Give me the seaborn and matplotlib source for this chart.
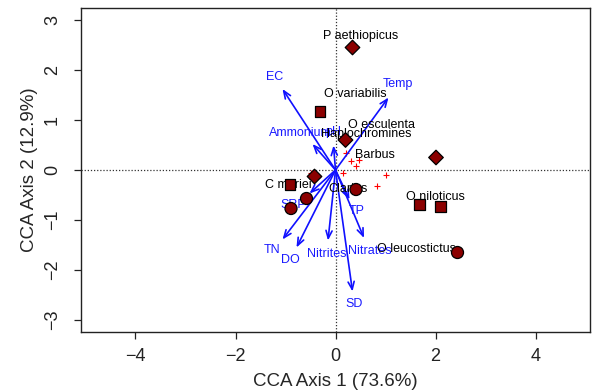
import matplotlib
matplotlib.use("Agg")
import matplotlib.pyplot as plt
import seaborn as sns
import pandas as pd

# ---- site scores (filled markers, three groups) ----
site_x = [0.34, 0.20, 2.01, -0.42, -0.31, -0.91, 1.68, 2.10, -0.58, -0.89, 0.41, 2.44]
site_y = [2.45, 0.60, 0.25, -0.13, 1.17, -0.29, -0.69, -0.73, -0.57, -0.77, -0.39, -1.65]
site_group = ["A", "A", "A", "A", "B", "B", "B", "B", "C", "C", "C", "C"]

# ---- species scores (red plus) ----
sp_x = [0.20, 0.31, 0.47, 0.40, 0.14, -0.49, 1.00, 0.83]
sp_y = [0.35, 0.18, 0.21, 0.09, -0.05, -0.05, -0.09, -0.31]

# ---- species labels ----
sp_names = ["P aethiopicus", "O variabilis", "O esculenta", "Haplochromines", "Barbus",
            "C mariei", "Clarias", "O niloticus", "O leucostictus"]
sp_lab_x = [0.50, 0.39, 0.92, 0.62, 0.79, -0.94, 0.26, 1.99, 1.62]
sp_lab_y = [2.69, 1.52, 0.89, 0.72, 0.29, -0.29, -0.38, -0.53, -1.58]

# ---- environmental vectors ----
env_names = ["EC", "Temp", "Ammonium", "pH", "SRP", "TN", "DO", "Nitrites", "Nitrates", "SD", "TP"]
env_x = [-1.06, 1.06, -0.46, -0.04, -0.52, -1.06, -0.78, -0.15, 0.57, 0.34, 0.28]
env_y = [1.62, 1.45, 0.52, 0.49, -0.47, -1.39, -1.55, -1.41, -1.36, -2.43, -0.59]
env_lab_x = [-1.22, 1.24, -0.71, -0.05, -0.84, -1.26, -0.91, -0.18, 0.68, 0.38, 0.42]
env_lab_y = [1.85, 1.73, 0.75, 0.75, -0.70, -1.60, -1.80, -1.68, -1.61, -2.68, -0.82]

x_label = "CCA Axis 1 (73.6%)"
y_label = "CCA Axis 2 (12.9%)"
x_ticks = [-4, -2, 0, 2, 4]
y_ticks = [-3, -2, -1, 0, 1, 2, 3]

sns.set_style("ticks")
plt.rcParams["font.family"] = ["Liberation Sans", "DejaVu Sans"]

fig = plt.figure(figsize=(5.92, 3.92), dpi=100)
ax = fig.add_axes([81 / 592, 60 / 392, (590 - 81) / 592, (332 - 8) / 392])

ax.axhline(0, color="#333333", ls=(0, (1, 1.5)), lw=0.9, zorder=1)
ax.axvline(0, color="#333333", ls=(0, (1, 1.5)), lw=0.9, zorder=1)

# species plus
sp_df = pd.DataFrame({"x": sp_x, "y": sp_y})
sns.scatterplot(data=sp_df, x="x", y="y", marker="+", color="red", s=18, linewidth=0.8,
                ax=ax, zorder=2, legend=False)

# env arrows
for n, x, y, lx, ly in zip(env_names, env_x, env_y, env_lab_x, env_lab_y):
    ax.annotate("", xy=(x, y), xytext=(0, 0),
                arrowprops=dict(arrowstyle="->,head_length=0.55,head_width=0.22",
                                color="#1010ff", lw=1.2, shrinkA=0, shrinkB=0),
                zorder=3)
    ax.text(lx, ly, n, color="#1a1aff", fontsize=9, ha="center", va="center", zorder=3)

# species labels
for n, x, y in zip(sp_names, sp_lab_x, sp_lab_y):
    ax.text(x, y, n, color="black", fontsize=9, ha="center", va="center", zorder=4)

# sites
site_df = pd.DataFrame({"x": site_x, "y": site_y, "group": site_group})
sns.scatterplot(data=site_df, x="x", y="y", style="group",
                markers={"A": "D", "B": "s", "C": "o"},
                size="group", sizes={"A": 55, "B": 60, "C": 75},
                color="#8b0000", edgecolor="black", linewidth=0.9,
                ax=ax, zorder=5, legend=False)

ax.set_xlim(-5.09, 5.09)
ax.set_ylim(-3.24, 3.24)
ax.set_xticks(x_ticks)
ax.set_yticks(y_ticks)
ax.set_xticklabels(["\u2212" + str(abs(t)) if t < 0 else str(t) for t in x_ticks])
ax.set_yticklabels(["\u2212" + str(abs(t)) if t < 0 else str(t) for t in y_ticks],
                   rotation=90, va="center")
ax.tick_params(direction="out", length=5, width=0.9, labelsize=13, colors="#222222")
ax.tick_params(axis="x", pad=6.5)
ax.tick_params(axis="y", pad=9.5)
ax.set_xlabel(x_label, fontsize=13.5, labelpad=6)
ax.set_ylabel(y_label, fontsize=13.5, labelpad=4)
for s in ax.spines.values():
    s.set_visible(True)
    s.set_linewidth(1.0)
    s.set_color("#222222")

fig.savefig("out.png", dpi=100)
